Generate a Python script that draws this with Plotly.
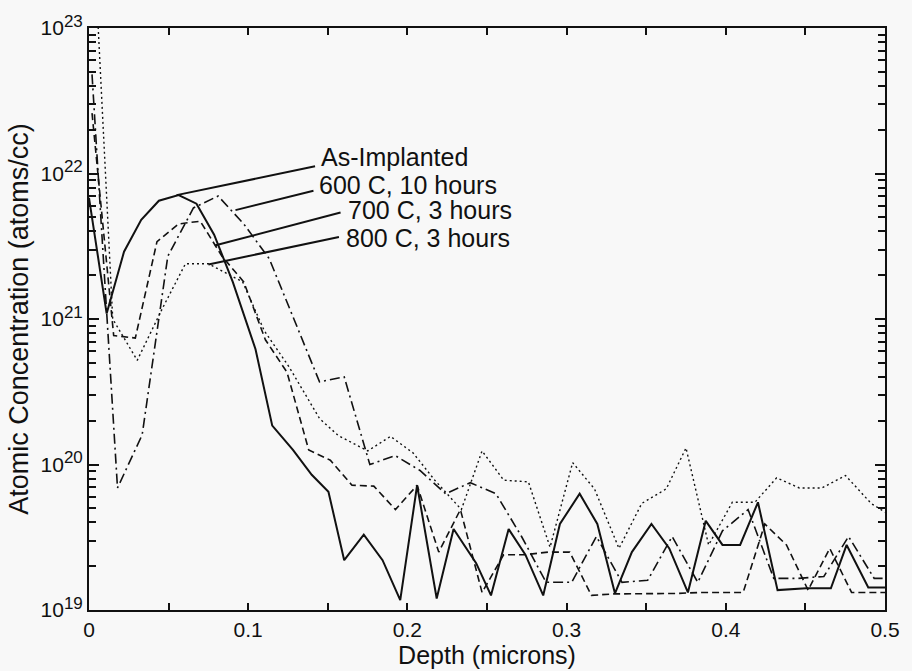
import plotly.graph_objects as go

# ---------------- data (depth in microns, concentration in atoms/cc) ----------------
x_as = [0.000, 0.0111, 0.0220, 0.0328, 0.0439, 0.0563, 0.0675, 0.0786, 0.0903, 0.1046, 0.1151, 0.1281,
        0.1399, 0.1504, 0.1603, 0.1726, 0.1844, 0.1955, 0.2061, 0.2184, 0.2290, 0.2432, 0.2525, 0.2636,
        0.2741, 0.2853, 0.2958, 0.3082, 0.3193, 0.3304, 0.3410, 0.3533, 0.3645, 0.3762, 0.3874, 0.3979,
        0.4090, 0.4202, 0.4325, 0.4505, 0.4660, 0.4759, 0.4895, 0.5000]
y_as = [6.8e21, 1.09e21, 2.9e21, 4.8e21, 6.5e21, 7.1e21, 6.2e21, 3.8e21, 1.8e21, 6.2e20, 1.85e20, 1.26e20,
        8.5e19, 6.5e19, 2.2e19, 3.3e19, 2.2e19, 1.17e19, 7.2e19, 1.2e19, 3.6e19, 2.1e19, 1.26e19, 3.6e19,
        2.4e19, 1.26e19, 3.9e19, 6.3e19, 3.9e19, 1.3e19, 2.5e19, 3.9e19, 2.65e19, 1.32e19, 4.1e19, 2.8e19,
        2.8e19, 5.5e19, 1.37e19, 1.41e19, 1.41e19, 2.8e19, 1.43e19, 1.43e19]

x_600 = [0.0019, 0.0179, 0.0334, 0.0495, 0.0656, 0.0811, 0.0972, 0.1132, 0.1287, 0.1448, 0.1603, 0.1764,
         0.1924, 0.2079, 0.2240, 0.2395, 0.2556, 0.2717, 0.2871, 0.3032, 0.3187, 0.3348, 0.3509, 0.3663,
         0.3824, 0.3979, 0.4140, 0.4301, 0.4455, 0.4616, 0.4771, 0.4932, 0.5000]
y_600 = [4.8e22, 6.9e19, 1.6e20, 2.7e21, 5.8e21, 7.0e21, 4.5e21, 2.6e21, 1.0e21, 3.7e20, 4.0e20, 1.0e20,
         1.15e20, 9.1e19, 6.3e19, 7.5e19, 6.3e19, 3.2e19, 1.55e19, 1.55e19, 3.2e19, 1.55e19, 1.6e19, 3.2e19,
         1.55e19, 3.5e19, 4.9e19, 1.65e19, 1.65e19, 1.7e19, 3.2e19, 1.65e19, 1.65e19]

x_700 = [0.0019, 0.0155, 0.0291, 0.0427, 0.0563, 0.0699, 0.0835, 0.0972, 0.1108, 0.1244, 0.1380, 0.1516,
         0.1652, 0.1789, 0.1925, 0.2061, 0.2197, 0.2333, 0.2469, 0.2605, 0.2741, 0.2884, 0.3020, 0.3156,
         0.3292, 0.3428, 0.3564, 0.3700, 0.3837, 0.3973, 0.4109, 0.4245, 0.4381, 0.4517, 0.4653, 0.4790,
         0.4926, 0.5000]
y_700 = [2.6e22, 7.7e20, 7.4e20, 3.4e21, 4.5e21, 4.7e21, 2.7e21, 1.8e21, 7.2e20, 4.3e20, 1.26e20, 1.07e20,
         7.2e19, 7.1e19, 4.9e19, 7.2e19, 2.5e19, 4.9e19, 1.32e19, 2.4e19, 2.4e19, 2.5e19, 2.5e19, 1.26e19,
         1.29e19, 1.29e19, 1.3e19, 1.3e19, 1.32e19, 1.32e19, 1.32e19, 3.9e19, 2.8e19, 1.37e19, 2.65e19, 1.32e19,
         1.32e19, 1.32e19]

x_800 = [0.0056, 0.0149, 0.0303, 0.0464, 0.0606, 0.0749, 0.0965, 0.1101, 0.1256, 0.1448, 0.1566, 0.1751,
         0.1894, 0.2036, 0.2172, 0.2339, 0.2469, 0.2605, 0.2760, 0.2896, 0.3038, 0.3175, 0.3329, 0.3472,
         0.3626, 0.3750, 0.3892, 0.4041, 0.4183, 0.4319, 0.4462, 0.4604, 0.4752, 0.4913, 0.5000]
y_800 = [1.1e23, 1.0e21, 5.2e20, 1.2e21, 2.4e21, 2.4e21, 1.8e21, 8.3e20, 4.7e20, 2.07e20, 1.58e20, 1.24e20,
         1.56e20, 1.2e20, 7.8e19, 4.9e19, 1.24e20, 7.8e19, 7.6e19, 2.7e19, 1.03e20, 6.8e19, 2.65e19, 5.4e19,
         6.8e19, 1.3e20, 2.8e19, 5.5e19, 5.5e19, 8.1e19, 6.9e19, 6.9e19, 8.4e19, 5.4e19, 4.7e19]

labels = ["As-Implanted", "600 C, 10 hours", "700 C, 3 hours", "800 C, 3 hours"]
# leader lines: (start on curve) -> (end at label)
leader_x0 = [0.055, 0.092, 0.079, 0.075]
leader_y0 = [7.1e21, 5.6e21, 3.2e21, 2.37e21]
leader_x1 = [0.142, 0.141, 0.158, 0.157]
leader_y1 = [1.12e22, 7.6e21, 5.4e21, 3.66e21]
label_px = [0.2884, 0.2859, 0.3230, 0.3205]   # paper x of label text
label_py = [0.7782, 0.7310, 0.6880, 0.6400]   # paper y of label text

y_tickvals = [1e19, 1e20, 1e21, 1e22, 1e23]
y_exps = ["19", "20", "21", "22", "23"]
x_tickvals = [0, 0.1, 0.2, 0.3, 0.4, 0.5]
x_ticktext = ["0", "0.1", "0.2", "0.3", "0.4", "0.5"]

FONT = "Liberation Sans, Arial, sans-serif"
INK = "#111111"

y_ticktext = ["10<sup><span style='font-size:17px'>%s</span></sup>" % e for e in y_exps]

fig = go.Figure()
styles = [
    (x_as, y_as, "solid", 2.0),
    (x_600, y_600, "10px,4px,2px,4px", 1.6),
    (x_700, y_700, "7px,4px", 1.6),
    (x_800, y_800, "2px,3px", 1.4),
]
for (xs, ys, dash, w), name in zip(styles, labels):
    fig.add_trace(go.Scatter(x=xs, y=ys, mode="lines", name=name,
                             line=dict(color=INK, width=w, dash=dash), showlegend=False))

for i in range(4):
    fig.add_trace(go.Scatter(x=[leader_x0[i], leader_x1[i]], y=[leader_y0[i], leader_y1[i]],
                             mode="lines", line=dict(color=INK, width=2), showlegend=False,
                             hoverinfo="skip"))
    fig.add_annotation(x=label_px[i], y=label_py[i], xref="paper", yref="paper",
                       text=labels[i], showarrow=False, xanchor="left", yanchor="middle",
                       font=dict(family=FONT, size=25, color=INK))

minor_y = [float(m) * 10.0 ** e for e in range(19, 23) for m in range(2, 10)]

fig.update_layout(
    width=912, height=671,
    margin=dict(l=89, r=15, t=22, b=56),
    paper_bgcolor="#f8f8f8", plot_bgcolor="#f8f8f8",
    font=dict(family=FONT, color=INK),
    xaxis=dict(range=[0, 0.5], tickvals=x_tickvals, ticktext=x_ticktext,
               ticks="inside", ticklen=7, tickwidth=1.5, tickcolor=INK,
               minor=dict(tickvals=[0.05, 0.15, 0.25, 0.35, 0.45], ticks="inside", ticklen=7,
                          tickwidth=1.5, tickcolor=INK, showgrid=False),
               showline=True, linecolor=INK, linewidth=2, mirror="ticks",
               showgrid=False, zeroline=False,
               tickfont=dict(size=21, family=FONT),
               title=dict(text="Depth (microns)", font=dict(size=25, family=FONT), standoff=0)),
    yaxis=dict(type="log", range=[19, 23], tickvals=y_tickvals, ticktext=y_ticktext,
               ticks="inside", ticklen=10, tickwidth=1.5, tickcolor=INK,
               minor=dict(tickvals=minor_y, ticks="inside", ticklen=7, tickwidth=1.5,
                          tickcolor=INK, showgrid=False),
               showline=True, linecolor=INK, linewidth=2, mirror="ticks",
               showgrid=False, zeroline=False,
               tickfont=dict(size=21, family=FONT),
               title=dict(text="Atomic Concentration (atoms/cc)", font=dict(size=27, family=FONT),
                          standoff=4)),
)

fig.write_html("out.html")
